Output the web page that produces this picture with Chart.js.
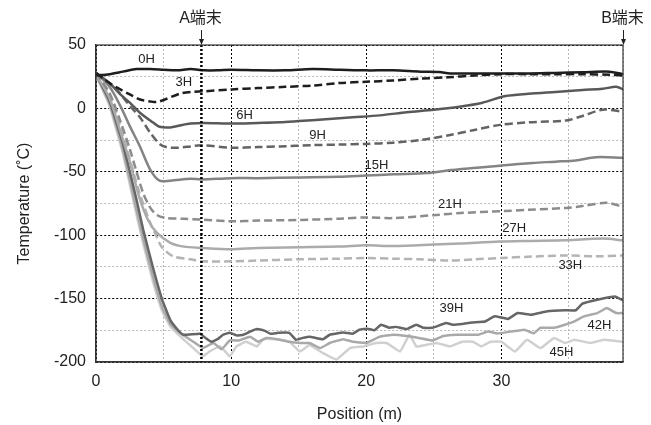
<!DOCTYPE html>
<html>
<head>
<meta charset="utf-8">
<script src="https://cdn.jsdelivr.net/npm/chart.js@4.4.1/dist/chart.umd.min.js"></script>
<style>
  html, body { margin: 0; padding: 0; background: #fff; }
  #wrap { width: 651px; height: 425px; }
</style>
</head>
<body>
<div id="wrap"><canvas id="tempChart" width="651" height="425"></canvas></div>
<script>
// Temperature along the pipe, one curve per elapsed time (position m, temperature degC)
const h0 = [[0,26],[1,27],[2,29],[3,31],[4,31],[5,30.5],[6,30],[7,31],[8,30],[9,30],[10,30.5],[12,30],[14,30],[16,31],[18,30.5],[20,30],[22,30],[24,29],[25.4,28.7],[26.2,27.6],[28,27.5],[30,27.5],[32,27.5],[34,28],[36,28.5],[38,29],[39,27]];
const h3 = [[0,28],[0.5,24],[1,20],[1.8,15],[2.5,11],[3.25,7],[4,5.5],[4.5,5],[5.1,7],[6.2,11.6],[7,13],[8,13.5],[10,15],[12,16],[14,17],[16,18],[18,20],[20,21],[22,22],[24,23.5],[26,24.5],[28,26],[30,27],[32,27],[34,27],[36,27],[38,26.5],[39,26]];
const h6 = [[0,28],[1,20],[1.8,11],[2.5,4.5],[3.25,-3.4],[4.2,-11],[4.7,-14.5],[5.5,-15],[6.2,-13.5],[7,-12],[8,-11.5],[10,-12],[12,-11.5],[13.6,-11],[15,-10],[17,-8.5],[19,-7],[21,-5.5],[23,-3],[25,-1],[27,1.5],[28.6,4.5],[30.3,9.7],[32,11.5],[34,13],[36,14.5],[37.5,15.5],[38.5,17],[39,15]];
const h9 = [[0,28],[1.5,15],[2.5,2],[3.25,-7],[4,-19],[4.7,-28],[5.2,-30.5],[6,-31],[7,-30],[7.8,-29],[10,-31],[12,-30.5],[13.6,-30],[16,-29],[18,-28.5],[20,-28],[22,-27],[24,-25],[26.2,-21],[28,-17],[29.9,-13],[32,-11],[34.8,-9.5],[36,-6],[37.5,-1],[39,-2.6]];
const h15 = [[0,28],[1,17],[1.8,2],[2.5,-14],[3.25,-30],[4,-48],[4.7,-57],[5.5,-57],[7,-55.5],[7.8,-56],[10,-55],[12,-55],[15,-54.5],[18,-54],[20,-53],[22,-52],[24.5,-51],[26,-49],[28.6,-46.5],[30,-45],[32.3,-43],[34,-42],[35.5,-41],[37,-38.5],[39,-39]];
const h21 = [[0,28],[1,12],[1.8,-10],[2.5,-32],[3,-50],[3.5,-67],[4,-78],[4.5,-84],[5.2,-86.5],[6.5,-87],[7.8,-87.7],[10,-89],[12,-88.5],[15,-88],[18,-87],[20,-86],[22,-86.5],[25.2,-84],[27,-82.5],[30.1,-81],[32,-80],[34.8,-78.5],[36,-77],[37.8,-74.5],[39,-77.6]];
const h27 = [[0,27],[1,8],[1.8,-18],[2.5,-42],[3.2,-70],[3.85,-88],[4.5,-98],[5.5,-106],[6.5,-109],[7.8,-110],[10,-111],[12,-110],[15,-109.5],[18,-109],[20,-108],[22,-108.5],[25,-107.4],[27,-106.5],[29.9,-105],[32,-104.5],[34.8,-104],[37.5,-102.7],[39,-104]];
const h33 = [[0,27],[1,10],[1.8,-14],[2.5,-40],[3.2,-66],[4,-90],[4.4,-99],[4.85,-109],[5.7,-116.6],[7,-119],[7.8,-120.6],[10,-120.6],[12,-120],[15,-119],[18,-118.5],[20,-118],[22,-118.5],[24,-119],[26.2,-120],[28,-119],[30,-118],[32,-117],[34.8,-116],[37,-116.6],[39,-116]];
const h39 = [[0,27],[1,6],[2,-28],[3,-72],[3.5,-96],[4.2,-125],[4.9,-151],[5.5,-167],[6,-174],[6.45,-178.5],[7.7,-177.7],[8.1,-181],[8.55,-184],[9,-182],[9.4,-178.5],[9.9,-177],[10.4,-179],[10.9,-178.5],[11.4,-176],[11.9,-174],[12.5,-175.5],[12.9,-177.7],[13.5,-177],[14.3,-177],[14.8,-182.5],[15.3,-181],[15.8,-180],[16.8,-182],[17.3,-178.5],[18.3,-176.7],[19,-177.7],[19.5,-174.5],[20.1,-173.7],[20.6,-175],[21.1,-170.6],[21.7,-173],[22.2,-172.3],[23,-174],[23.7,-170.6],[24.2,-173],[24.9,-173],[25.9,-169.3],[26.4,-170.6],[27.1,-170],[27.8,-168.8],[28.8,-168],[29.5,-164],[30.5,-166],[31.2,-161.4],[32.2,-162.7],[33.4,-160],[34.7,-159.2],[35.5,-159.2],[36,-154],[37.1,-150.9],[38.4,-148.3],[39,-151.4]];
const h42 = [[0,27],[1,4],[2,-33],[3,-80],[3.5,-103],[4.2,-132],[4.9,-157],[5.5,-170],[6.2,-177],[7.2,-184],[7.9,-189],[8.7,-185],[9.3,-190],[9.9,-183],[10.6,-183],[11.4,-180],[12,-184],[12.6,-181],[13.4,-182],[14.3,-184],[15.1,-185],[15.8,-185],[16.6,-189],[17.3,-185],[18.3,-182],[19,-184],[20,-185],[21,-180],[22,-178.5],[23,-179.5],[23.9,-181],[24.9,-183],[25.7,-179.5],[26.7,-178.5],[27.6,-178.5],[28.3,-178.5],[29,-176],[29.7,-177.5],[30.7,-176],[31.7,-174.5],[32.4,-177.3],[32.9,-173],[33.9,-173],[34.7,-170.6],[35.4,-168],[36.1,-164],[37.1,-161.4],[37.8,-157.4],[38.5,-161.4],[39,-161.4]];
const h45 = [[0,26],[1,2],[2,-36],[3,-84],[3.5,-107],[4.2,-136],[4.9,-160],[5.5,-172],[6.45,-182],[7.2,-189],[7.9,-195.5],[8.4,-191.7],[9.2,-187.7],[9.9,-195.5],[10.4,-187.7],[11.1,-184],[11.9,-187.7],[12.4,-182],[13.4,-182],[14.3,-184],[15.1,-191.7],[15.8,-186.6],[16.8,-193],[17.8,-198],[18.8,-189],[19.8,-187.7],[20.7,-185],[21.5,-185],[22.5,-191.7],[23.2,-178.5],[23.7,-187.7],[24.4,-186.6],[25.2,-185],[26.2,-187.7],[27.1,-184],[27.9,-184],[28.5,-187.7],[29.2,-184],[30,-184],[31,-191.7],[31.9,-182.5],[32.9,-189],[33.9,-181],[34.7,-185],[35.4,-182.5],[36.6,-185],[37.6,-182.5],[39,-184]];

const seriesNames = ['0H', '3H', '6H', '9H', '15H', '21H', '27H', '33H', '39H', '42H', '45H'];
const seriesData = [h0, h3, h6, h9, h15, h21, h27, h33, h39, h42, h45];

// label anchors (position m, temperature) for the time tags
const labelAt = [[3.75,38.7],[6.5,20.5],[11,-5.5],[16.4,-21],[20.75,-44.8],[26.2,-75.8],[30.95,-94.8],[35.1,-123.8],[26.3,-157.4],[37.25,-171.2],[34.45,-192.5]];

const aEnd = 7.8;   // A terminal position (m)
const bEnd = 39;    // B terminal position (m)
const xMin = 0, xMax = 39, yMin = -200, yMax = 50;

const styles = [
  { color: '#1e1e1e', dash: [] },
  { color: '#1e1e1e', dash: [8, 4] },
  { color: '#595959', dash: [] },
  { color: '#646464', dash: [8, 4] },
  { color: '#848484', dash: [] },
  { color: '#8c8c8c', dash: [8, 4] },
  { color: '#ababab', dash: [] },
  { color: '#b4b4b4', dash: [8, 4] },
  { color: '#666666', dash: [] },
  { color: '#a9a9a9', dash: [] },
  { color: '#d0d0d0', dash: [] }
];

const FONT = '"Liberation Sans", Arial, Helvetica, sans-serif';
const CJK = '"Liberation Sans", "Noto Sans CJK JP", sans-serif';

const datasets = [{
  label: 'A端末',
  data: [{ x: aEnd, y: yMax }, { x: aEnd, y: yMin }],
  borderColor: '#000',
  borderWidth: 2.5,
  borderDash: [2, 2],
  pointRadius: 0
}];
seriesData.forEach((d, i) => {
  datasets.push({
    label: seriesNames[i],
    data: d.map(([x, y]) => ({ x, y })),
    borderColor: styles[i].color,
    borderDash: styles[i].dash,
    borderWidth: 2.5,
    pointRadius: 0,
    tension: i >= 8 ? 0.1 : 0.3
  });
});

const overlay = {
  id: 'overlay',
  afterDraw(chart) {
    const { ctx, chartArea: ca, scales: { x, y } } = chart;
    ctx.save();
    // frame
    ctx.strokeStyle = '#333';
    ctx.lineWidth = 1.2;
    ctx.strokeRect(ca.left, ca.top, ca.right - ca.left, ca.bottom - ca.top);

    // terminal arrows
    ctx.fillStyle = '#222';
    ctx.strokeStyle = '#222';
    ctx.lineWidth = 1;
    ctx.font = '16px ' + CJK;
    ctx.textAlign = 'center';
    ctx.textBaseline = 'middle';
    [[aEnd, 'A端末'], [bEnd, 'B端末']].forEach(([pos, txt]) => {
      const px = Math.round(x.getPixelForValue(pos)) + 0.5;
      ctx.beginPath();
      ctx.moveTo(px, 30);
      ctx.lineTo(px, ca.top - 4);
      ctx.stroke();
      ctx.beginPath();
      ctx.moveTo(px - 2.5, ca.top - 6);
      ctx.lineTo(px + 2.5, ca.top - 6);
      ctx.lineTo(px, ca.top);
      ctx.closePath();
      ctx.fill();
      ctx.fillText(txt, px - 1, 19);
    });

    // time tags
    ctx.font = '13px ' + FONT;
    ctx.fillStyle = '#222';
    labelAt.forEach(([lx, ly], i) => {
      ctx.fillText(seriesNames[i], x.getPixelForValue(lx), y.getPixelForValue(ly));
    });
    ctx.restore();
  }
};

new Chart(document.getElementById('tempChart'), {
  type: 'line',
  data: { datasets },
  options: {
    responsive: false,
    animation: false,
    layout: { padding: { top: 45, right: 28, left: 0, bottom: 0 } },
    plugins: { legend: { display: false }, tooltip: { enabled: false } },
    scales: {
      x: {
        type: 'linear',
        min: xMin,
        max: xMax,
        afterFit: s => { s.height = 63; },
        ticks: {
          stepSize: 5,
          autoSkip: false,
          maxRotation: 0,
          padding: 10,
          color: '#222',
          font: { family: FONT, size: 16 },
          callback: v => (v % 10 === 0 ? v : '')
        },
        grid: {
          drawTicks: false,
          color: c => (c.tick && c.tick.value % 10 === 0 ? '#000' : '#b8b8b8'),
          lineWidth: 1
        },
        border: { display: true, color: '#333', width: 1.2, dash: [2, 2] },
        title: {
          display: true,
          text: 'Position (m)',
          color: '#222',
          font: { family: FONT, size: 16 },
          padding: { top: 0, bottom: 1 }
        }
      },
      y: {
        min: yMin,
        max: yMax,
        afterFit: s => { s.width = 96; },
        ticks: {
          stepSize: 25,
          autoSkip: false,
          padding: 10,
          color: '#222',
          font: { family: FONT, size: 16 },
          callback: v => (v % 50 === 0 ? v : '')
        },
        grid: {
          drawTicks: false,
          color: c => (c.tick && c.tick.value % 50 === 0 ? '#000' : '#b8b8b8'),
          lineWidth: 1
        },
        border: { display: true, color: '#333', width: 1.2, dash: [2, 2] },
        title: {
          display: true,
          text: 'Temperature (˚C)',
          color: '#222',
          font: { family: FONT, size: 16 },
          padding: { top: 15, bottom: 0 }
        }
      }
    }
  },
  plugins: [overlay]
});
</script>
</body>
</html>
